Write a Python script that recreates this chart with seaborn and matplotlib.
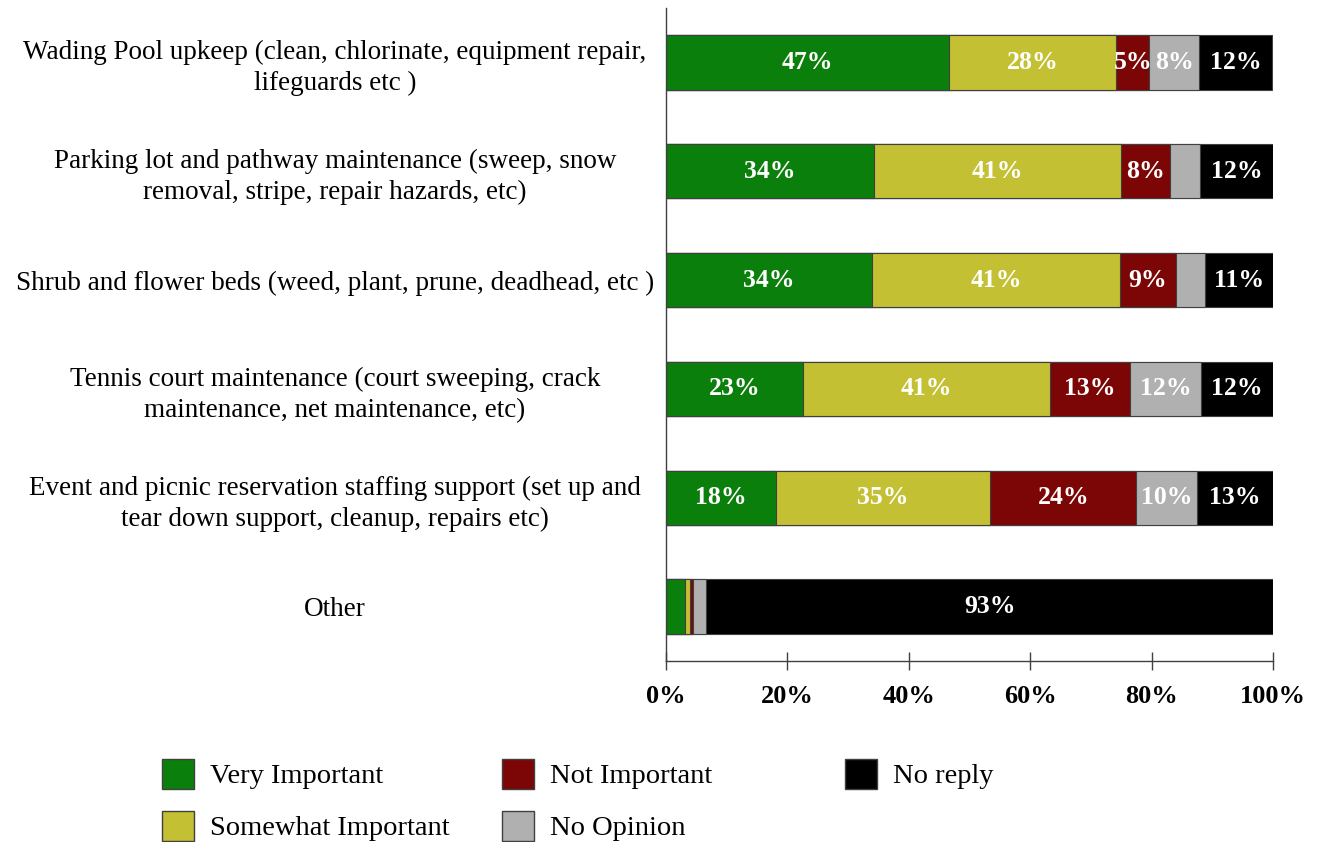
import matplotlib
matplotlib.use('Agg')
import matplotlib.pyplot as plt
import matplotlib.patches as mpatches
import numpy as np
import pandas as pd
import seaborn as sns

# survey tasks (top to bottom)
tasks = [
    "Wading Pool upkeep (clean, chlorinate, equipment repair,\nlifeguards etc )",
    "Parking lot and pathway maintenance (sweep, snow\nremoval, stripe, repair hazards, etc)",
    "Shrub and flower beds (weed, plant, prune, deadhead, etc )",
    "Tennis court maintenance (court sweeping, crack\nmaintenance, net maintenance, etc)",
    "Event and picnic reservation staffing support (set up and\ntear down support, cleanup, repairs etc)",
    "Other",
]
answers = ["Very Important", "Somewhat Important", "Not Important", "No Opinion", "No reply"]

very_important = [46.6, 34.3, 33.9, 22.6, 18.1, 3.2]
somewhat_important = [27.6, 40.6, 40.9, 40.6, 35.3, 0.7]
not_important = [5.4, 8.2, 9.2, 13.2, 24.1, 0.5]
no_opinion = [8.2, 4.9, 4.8, 11.8, 9.9, 2.2]
no_reply = [12.0, 12.0, 11.2, 11.8, 12.6, 93.4]

colors = ["#0b7f0b", "#c4c033", "#7c0606", "#b0b0b0", "#000000"]
x_ticks = [0, 20, 40, 60, 80, 100]

df = pd.DataFrame({
    "task": tasks,
    "Very Important": very_important,
    "Somewhat Important": somewhat_important,
    "Not Important": not_important,
    "No Opinion": no_opinion,
    "No reply": no_reply,
})
cum = df[answers].cumsum(axis=1)
starts = cum - df[answers]

sns.set_theme(style="white")
plt.rcParams['font.family'] = ['Liberation Serif', 'DejaVu Serif']
plt.rcParams['text.color'] = 'black'
plt.rcParams['xtick.color'] = 'black'
plt.rcParams['ytick.color'] = 'black'
plt.rcParams['xtick.labelcolor'] = 'black'
plt.rcParams['ytick.labelcolor'] = 'black'

fig = plt.figure(figsize=(13.25, 8.42), dpi=100)
ax = fig.add_axes([666 / 1325, 1 - 661 / 842, (1273 - 666) / 1325, (661 - 8) / 842])

# draw cumulative bars from the widest down so each segment shows
for ans, col in reversed(list(zip(answers, colors))):
    sns.barplot(data=cum.assign(task=tasks), x=ans, y="task", orient="h",
                color=col, width=0.5, edgecolor="#404040", linewidth=0.8,
                saturation=1, ax=ax)

# value labels
for i, t in enumerate(tasks):
    for ans in answers:
        v = df.loc[i, ans]
        if v >= 5:
            xc = starts.loc[i, ans] + v / 2
            ax.text(xc, i, f"{v:.0f}%", ha='center', va='center',
                    color='white', fontsize=18.5, fontweight='bold')

ax.set_xlim(0, 100)
ax.set_ylim(5.5, -0.5)
ax.set_xticks(x_ticks)
ax.set_xticklabels([f"{t}%" for t in x_ticks], fontsize=19, fontweight='bold')
ax.tick_params(axis='x', direction='inout', length=13, width=1, color='#404040',
               bottom=True, pad=11)
ax.tick_params(axis='y', length=0, pad=331 * 72 / 100)
for lab in ax.get_yticklabels():
    lab.set_ha('center')
    lab.set_multialignment('center')
    lab.set_linespacing(1.3)
    lab.set_fontsize(19.5)
ax.set_xlabel("")
ax.set_ylabel("")
for side in ['top', 'right']:
    ax.spines[side].set_visible(False)
for side in ['left', 'bottom']:
    ax.spines[side].set_color('#404040')
    ax.spines[side].set_linewidth(1)

# legend in three fixed columns
handles = [mpatches.Patch(facecolor=c, edgecolor='#404040', label=a)
           for a, c in zip(answers, colors)]
col_x = [162, 502, 845]
groups = [handles[0:2], handles[2:4], handles[4:5]]
for x0, hs in zip(col_x, groups):
    fig.legend(handles=hs, loc='upper left', bbox_to_anchor=(x0 / 1325, 1 - 759 / 842),
               frameon=False, fontsize=20.5, handlelength=1.12, handleheight=1.23,
               handletextpad=0.55, labelspacing=0.75, borderpad=0, borderaxespad=0)

fig.savefig('out.png', dpi=100)
